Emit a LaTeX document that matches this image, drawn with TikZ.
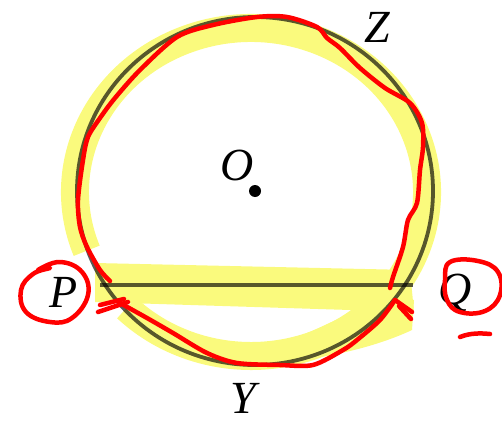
\documentclass[tikz,border=0pt]{standalone}
\usepackage{fontspec}
\setmainfont{Liberation Serif}
\begin{document}
\begin{tikzpicture}[x=1pt,y=-1pt,
  lbl/.style={font=\fontsize{46}{46}\selectfont\itshape, inner sep=0pt},
  hl/.style={draw=hlyellow, line width=28pt},
  pen/.style={draw=penred, line width=4.5pt, line cap=round, line join=round},
  geo/.style={draw=black, draw opacity=0.65, line width=3.8pt}]
\definecolor{hlyellow}{RGB}{250,250,125}
\definecolor{penred}{RGB}{255,0,0}
\useasboundingbox (0,0) rectangle (502,420);
\coordinate (O) at (255,191);
\coordinate (A) at (100,285);
\coordinate (B) at (413,285);
% highlighter
\draw[hl] (251,192) ++(159:176 and 164) arc [start angle=159, end angle=495, x radius=176, y radius=164];
\fill[hlyellow] (95,263) -- (410,270) -- (414,312) -- (95,302) -- cycle;
\fill[hlyellow] (290,340) .. controls (330,325) and (360,305) .. (395,298) -- (414,300) -- (412,330) .. controls (380,345) and (340,355) .. (300,360) -- cycle;
% geometry
\draw[geo] (O) ellipse [x radius=178, y radius=174];
\draw[geo] (A) -- (B);
\fill (O) circle (6);
% labels
\node[lbl] (Olbl) at (237,165) {O};
\node[lbl] (Z) at (377,27) {Z};
\node[lbl] (Y) at (243,398) {Y};
\node[lbl] (P) at (64,292) {P};
\node[lbl] (Q) at (455,293) {Q};
% red pen
\draw[pen] plot[smooth, tension=0.5] coordinates {(110,281) (100,270) (87,247) (80,227) (78,200) (83,160) (88,137) (100,118) (115,98) (140,70) (177,37) (213,25) (257,17) (287,17) (317,27) (327,38) (340,48) (360,68) (385,88) (410,103) (422,123) (423,147) (420,170) (417,203) (408,220) (403,247) (393,277) (390,288)};
\draw[pen] plot[smooth, tension=0.5] coordinates {(120,303) (147,318) (173,333) (207,353) (237,363) (280,365) (313,365) (343,350) (357,340) (380,320) (395,300)};
\draw[pen] (395,300) -- (412,312);
\draw[pen] (399,306) -- (411,319);
\draw[pen] (98,312) -- (128,302);
\draw[pen] (100,305) -- (124,299);
\draw[pen] plot[smooth cycle, tension=0.7] coordinates {(38,270) (60,262) (82,272) (88,295) (72,318) (50,322) (26,312) (21,290) (33,274) (50,268)};
\draw[pen] plot[smooth cycle, tension=0.7] coordinates {(450,262) (478,261) (498,272) (500,295) (485,311) (460,312) (447,300) (445,280)};
\draw[pen] (460,337) .. controls (470,333) and (480,333) .. (490,334);
\end{tikzpicture}
\end{document}
